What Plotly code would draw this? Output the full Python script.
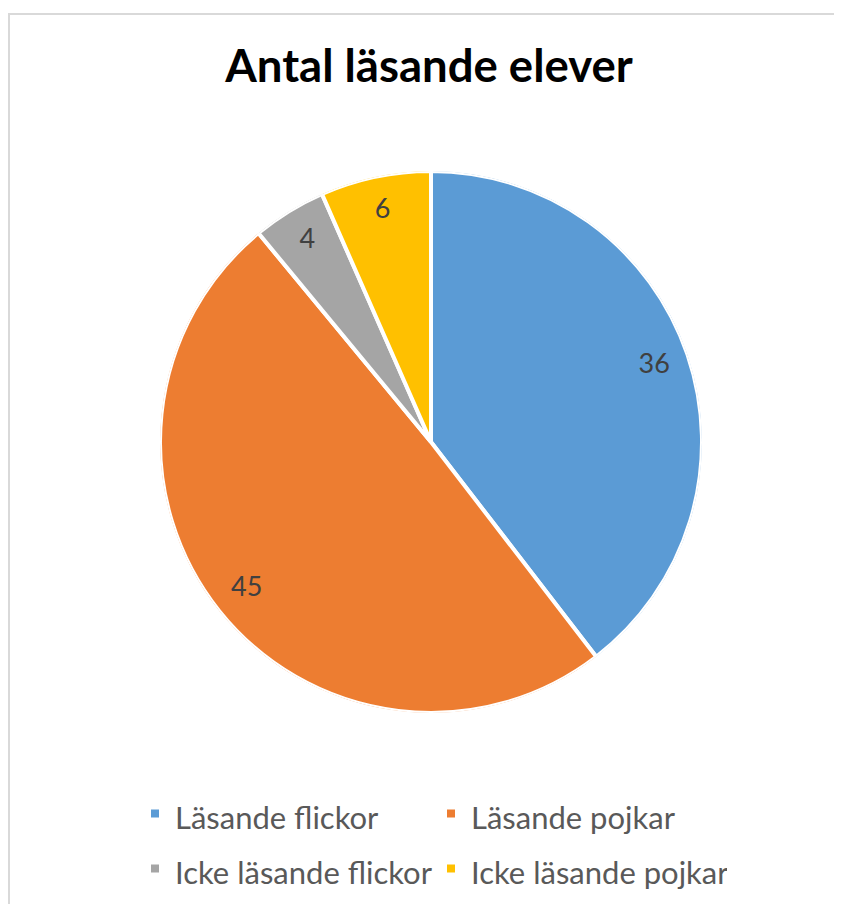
import plotly.graph_objects as go

labels = ["Läsande flickor", "Läsande pojkar", "Icke läsande flickor", "Icke läsande pojkar"]
values = [36, 45, 4, 6]
colors = ["#5B9BD5", "#ED7D31", "#A5A5A5", "#FFC000"]
title_text = "Antal läsande elever"

W, H = 842, 904
OFF = 8  # page body margin in the browser

total = sum(values)
spans = [v / total * 360 for v in values]
mids = []
acc = 0
for s in spans:
    mids.append(acc + s / 2)
    acc += s

dom = dict(x=[(160 - OFF) / W, (702 - OFF) / W], y=[1 - (713 - OFF) / H, 1 - (171 - OFF) / H])

fig = go.Figure()
for lab, v, s, m, c in zip(labels, values, spans, mids, colors):
    fig.add_trace(go.Barpolar(
        r=[1], theta=[m], width=[s], base=0,
        name="<span style='font-size:31px'>" + lab + "</span>",
        marker=dict(color=c, line=dict(color="white", width=4)),
        hovertext=[f"{lab}: {v}"], hoverinfo="text",
    ))

fig.add_trace(go.Scatterpolar(
    r=[0.87] * len(values), theta=mids, mode="text",
    text=[str(v) for v in values],
    textfont=dict(family="Lato, sans-serif", size=27, color="#404040"),
    showlegend=False, hoverinfo="skip",
))

fig.update_layout(
    width=W,
    height=H,
    margin=dict(l=0, r=0, t=0, b=0),
    paper_bgcolor="white",
    polar=dict(
        domain=dom,
        bgcolor="rgba(0,0,0,0)",
        bargap=0,
        hole=0,
        radialaxis=dict(visible=False, range=[0, 1]),
        angularaxis=dict(visible=False, rotation=90, direction="clockwise",
                         showgrid=False, showline=False),
    ),
    title=dict(
        text="<b>" + title_text + "</b>",
        x=(429 - OFF) / W,
        xanchor="center",
        y=1 - (66 - OFF) / H,
        yanchor="middle",
        font=dict(family="Lato, sans-serif", size=45.5, color="black"),
    ),
    legend=dict(
        orientation="h",
        x=(135 - OFF) / W,
        xanchor="left",
        y=1 - (781 - OFF) / H,
        yanchor="top",
        entrywidth=251,
        font=dict(family="Lato, sans-serif", size=40, color="#595959"),
        bgcolor="rgba(0,0,0,0)",
    ),
    showlegend=True,
    shapes=[dict(
        type="rect", xref="paper", yref="paper",
        x0=1 / W, x1=1.01, y0=-0.01, y1=1 - (14 - OFF) / H,
        line=dict(color="#D9D9D9", width=2),
        fillcolor="rgba(0,0,0,0)",
        layer="below",
    )],
)

fig.write_html("out.html")
